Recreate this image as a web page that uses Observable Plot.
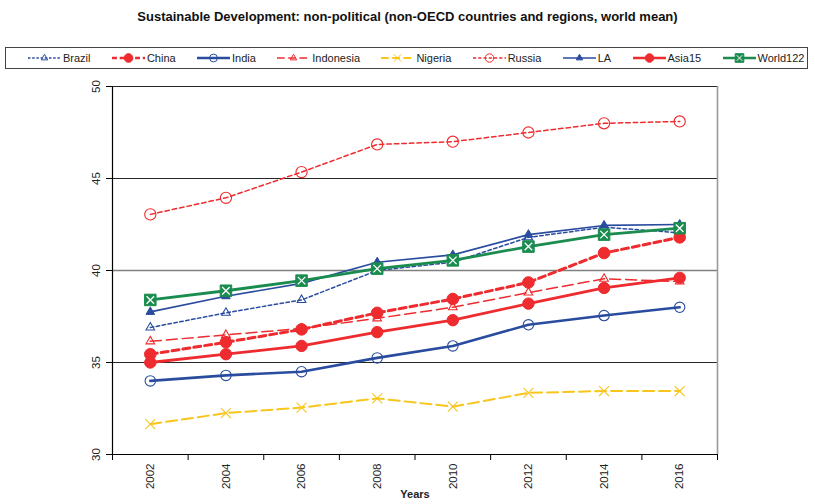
<!DOCTYPE html>
<html>
<head>
<meta charset="utf-8">
<script src="https://cdn.jsdelivr.net/npm/d3@7"></script>
<script src="https://cdn.jsdelivr.net/npm/@observablehq/plot@0.6"></script>
<style>
  body { margin: 0; background: #fff; font-family: "Liberation Sans", Arial, sans-serif; }
  #wrap { position: relative; width: 815px; height: 504px; overflow: hidden; }
  #title { position: absolute; left: 0; top: 9px; width: 815px; text-align: center;
           font-weight: bold; font-size: 13px; color: #111; }
  #legend { position: absolute; left: 5px; top: 47px; width: 803px; height: 22px;
            border: 1px solid #444; display: flex; align-items: center;
            padding-left: 22px; box-sizing: border-box; font-size: 11px; color: #222; }
  .item { display: flex; align-items: center; margin-right: 21.4px; }
  .item svg { display: block; margin-right: 2px; }
  #chart { position: absolute; left: 0; top: 75px; }
</style>
</head>
<body>
<div id="wrap">
  <div id="title">Sustainable Development: non-political (non-OECD countries and regions, world mean)</div>
  <div id="legend"></div>
  <div id="chart"></div>
</div>
<script>
// Survey years
const years = [2002, 2004, 2006, 2008, 2010, 2012, 2014, 2016];

// Index values per country / region
const brazil    = [36.9, 37.7, 38.4, 40.0, 40.45, 41.8, 42.35, 42.05];
const china     = [35.45, 36.1, 36.8, 37.7, 38.45, 39.35, 40.95, 41.8];
const india     = [34.0, 34.3, 34.5, 35.25, 35.9, 37.05, 37.55, 38.0];
const indonesia = [36.15, 36.5, 36.85, 37.4, 38.0, 38.8, 39.55, 39.4];
const nigeria   = [31.65, 32.25, 32.55, 33.05, 32.6, 33.35, 33.45, 33.45];
const russia    = [43.05, 43.95, 45.35, 46.85, 47.0, 47.5, 48.0, 48.1];
const la        = [37.75, 38.6, 39.3, 40.45, 40.85, 41.95, 42.45, 42.5];
const asia15    = [35.0, 35.45, 35.9, 36.65, 37.3, 38.2, 39.05, 39.6];
const world122  = [38.4, 38.9, 39.45, 40.1, 40.55, 41.3, 41.95, 42.3];

const seriesNames = ["Brazil", "China", "India", "Indonesia", "Nigeria", "Russia", "LA", "Asia15", "World122"];
const seriesValues = [brazil, china, india, indonesia, nigeria, russia, la, asia15, world122];

// Axis ticks
const yTicks = [30, 35, 40, 45, 50];
const xBounds = [2001, 2003, 2005, 2007, 2009, 2011, 2013, 2015, 2017];

// Line and marker styles
const BLUE = "#2a4c9f", RED = "#ee2b2e", GREEN = "#1b8c4f", YELLOW = "#f8c51c";
const styles = {
  Brazil:    {color: BLUE,   width: 1.5, dash: "3.5,2.5", symbol: "triangle", r: 3.2, fill: "none"},
  China:     {color: RED,    width: 3,   dash: "7,4",     symbol: "circle",   r: 5.8, fill: RED},
  India:     {color: BLUE,   width: 2.6, dash: null,      symbol: "circle",   r: 5.2, fill: "none"},
  Indonesia: {color: RED,    width: 1.5, dash: "11,5",    symbol: "triangle", r: 3.2, fill: "none"},
  Nigeria:   {color: YELLOW, width: 2,   dash: "11,5",    symbol: "times",    r: 4.6, fill: "none"},
  Russia:    {color: RED,    width: 1.5, dash: "4.5,3",   symbol: "circle",   r: 5.6, fill: "none"},
  LA:        {color: BLUE,   width: 1.6, dash: null,      symbol: "triangle", r: 3.2, fill: BLUE},
  Asia15:    {color: RED,    width: 2.8, dash: null,      symbol: "circle",   r: 5.7, fill: RED},
  World122:  {color: GREEN,  width: 2.8, dash: null,      symbol: "square",   r: 6.5, fill: GREEN}
};

const rows = seriesNames.map((name, i) => years.map((year, j) => ({name, year, value: seriesValues[i][j]})));

const seriesMarks = rows.flatMap(data => {
  const s = styles[data[0].name];
  const marks = [
    Plot.line(data, {x: "year", y: "value", stroke: s.color, strokeWidth: s.width,
                     strokeDasharray: s.dash ?? undefined, curve: "linear"}),
    Plot.dot(data, {x: "year", y: "value", symbol: s.symbol, r: s.r,
                    fill: s.fill, stroke: s.color, strokeWidth: s.fill === "none" ? 1.1 : 1})
  ];
  if (data[0].name === "World122") {
    marks.push(Plot.dot(data, {x: "year", y: "value", symbol: "times", r: 3.5, stroke: "#fff", strokeWidth: 1.3}));
  }
  return marks;
});

const chart = Plot.plot({
  width: 815,
  height: 429,
  marginTop: 11,
  marginLeft: 112,
  marginRight: 98,
  marginBottom: 50,
  style: {fontFamily: "'Liberation Sans', Arial, sans-serif", fontSize: "11.5px", color: "#222"},
  x: {type: "linear", domain: [2001, 2017]},
  y: {domain: [30, 50]},
  marks: [
    // horizontal gridlines
    Plot.ruleY(yTicks.filter(v => v !== 30 && v !== 40), {stroke: "#262626", strokeWidth: 1}),
    Plot.ruleY([40], {stroke: "#808080", strokeWidth: 1.7}),
    // frame
    Plot.ruleX([2017], {stroke: "#9a9a9a", strokeWidth: 1.6}),
    Plot.ruleY([30], {stroke: "#000", strokeWidth: 1.2}),
    Plot.ruleX([2001], {stroke: "#000", strokeWidth: 1.2}),
    // tick marks
    Plot.axisX({ticks: xBounds, tickSize: 6, tickFormat: () => "", label: null, stroke: "#000"}),
    Plot.axisY({ticks: yTicks, tickSize: 6, tickFormat: () => "", label: null, stroke: "#000"}),
    // rotated tick labels
    Plot.text(years, {x: d => d, y: 30, text: d => String(d), rotate: -90, textAnchor: "end", dy: 9, fill: "#222"}),
    Plot.text(yTicks, {x: 2001, y: d => d, text: d => String(d), rotate: -90, textAnchor: "middle", dx: -16, fill: "#222"}),
    Plot.text(["Years"], {frameAnchor: "bottom", text: d => d, dy: 43, fontWeight: "bold", fontSize: 11, fill: "#222"}),
    ...seriesMarks
  ]
});
document.getElementById("chart").append(chart);

// Legend: line sample with marker, then the series name
const legend = d3.select("#legend");
seriesNames.forEach(name => {
  const s = styles[name];
  const item = legend.append("div").attr("class", "item");
  const svg = item.append("svg").attr("width", 33).attr("height", 14);
  svg.append("line").attr("x1", 0).attr("x2", 33).attr("y1", 7).attr("y2", 7)
    .attr("stroke", s.color).attr("stroke-width", Math.min(s.width, 2.6))
    .attr("stroke-dasharray", s.dash ? s.dash.split(",").map(v => v * 0.7).join(",") : null);
  const shape = {circle: d3.symbolCircle, triangle: d3.symbolTriangle, square: d3.symbolSquare, times: d3.symbolTimes}[s.symbol];
  const rr = s.r * 0.75;
  svg.append("path").attr("transform", "translate(16.5,7)")
    .attr("d", d3.symbol(shape, Math.PI * rr * rr)())
    .attr("fill", s.fill).attr("stroke", s.color).attr("stroke-width", 1);
  if (name === "World122") {
    svg.append("path").attr("transform", "translate(16.5,7)")
      .attr("d", d3.symbol(d3.symbolTimes, Math.PI * 2.6 * 2.6)())
      .attr("fill", "none").attr("stroke", "#fff").attr("stroke-width", 1);
  }
  item.append("span").text(name);
});
</script>
</body>
</html>
